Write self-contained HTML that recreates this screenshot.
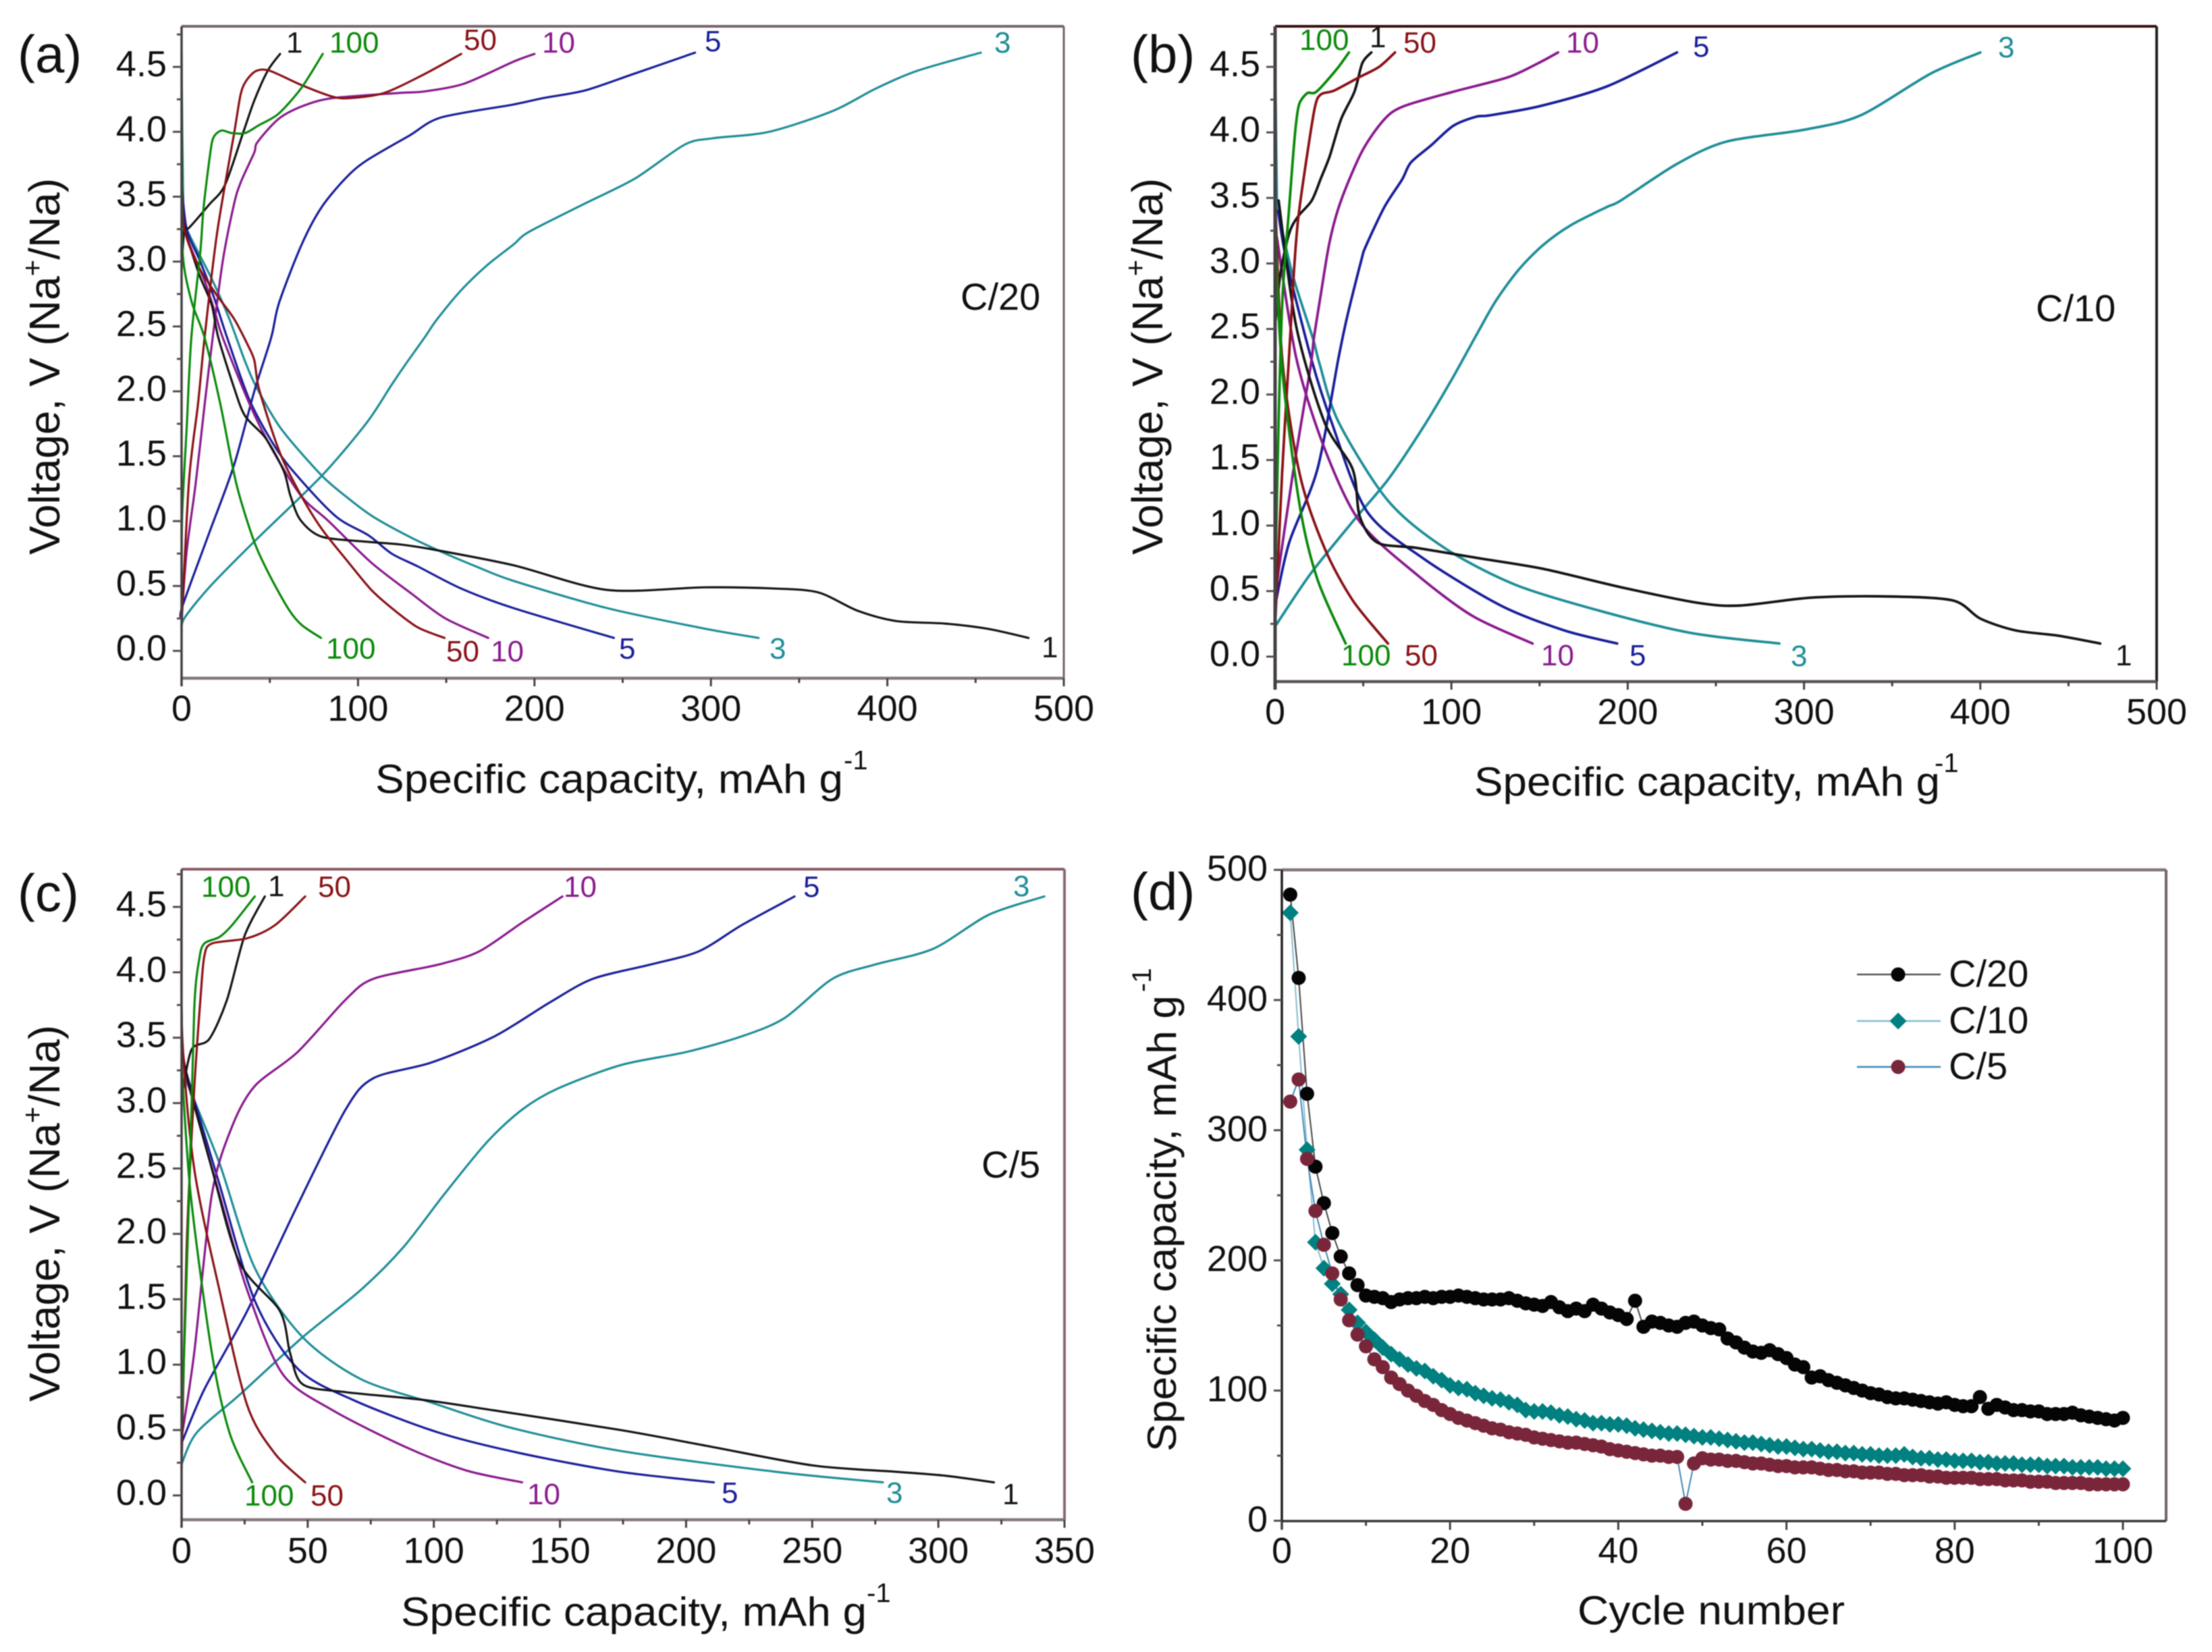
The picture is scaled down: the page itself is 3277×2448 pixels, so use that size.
<!DOCTYPE html>
<html lang="en">
<head>
<meta charset="utf-8">
<title>Specific capacity and voltage profiles</title>
<style>
html,body{margin:0;padding:0;background:#fff;}
svg{display:block;filter:blur(0.7px);}
text{font-family:"Liberation Sans",sans-serif;fill:#111;}
.tick{font-size:54px;}
.title{font-size:60px;}
.ytitle{font-size:64px;}
.sup{font-size:40px;}
.letter{font-size:78px;}
.rate{font-size:56px;}
.cl{font-size:44px;}
.k{fill:#151515}.r{fill:#8a1216}.g{fill:#0a8a0a}.p{fill:#8a1a8e}.b{fill:#1a1f9a}.t{fill:#1f8e98}
</style>
</head>
<body>
<svg id="fig" xmlns="http://www.w3.org/2000/svg" width="3277" height="2448" viewBox="0 0 3277 2448">
<rect width="3277" height="2448" fill="#fff"/>
<g id="plots"></g>

<!-- panel a text -->
<text class="letter" x="26" y="107">(a)</text>
<text class="title" x="556" y="1175" textLength="693" lengthAdjust="spacingAndGlyphs">Specific capacity, mAh g</text>
<text class="sup" x="1250" y="1140">-1</text>
<text class="ytitle" transform="translate(88,822) rotate(-90)">Voltage, V (Na<tspan font-size="42" dy="-26">+</tspan><tspan dy="26">/Na)</tspan></text>
<text class="rate" x="1423" y="459">C/20</text>
<text class="cl k" x="424" y="78">1</text>
<text class="cl g" x="488" y="78">100</text>
<text class="cl r" x="687" y="74">50</text>
<text class="cl p" x="803" y="78">10</text>
<text class="cl b" x="1044" y="76">5</text>
<text class="cl t" x="1473" y="78">3</text>
<text class="cl g" x="483" y="976">100</text>
<text class="cl r" x="661" y="980">50</text>
<text class="cl p" x="727" y="980">10</text>
<text class="cl b" x="917" y="976">5</text>
<text class="cl t" x="1140" y="976">3</text>
<text class="cl k" x="1543" y="974">1</text>

<!-- panel b text -->
<text class="letter" x="1675" y="107">(b)</text>
<text class="title" x="2184" y="1179" textLength="690" lengthAdjust="spacingAndGlyphs">Specific capacity, mAh g</text>
<text class="sup" x="2866" y="1144">-1</text>
<text class="ytitle" transform="translate(1722,822) rotate(-90)">Voltage, V (Na<tspan font-size="42" dy="-26">+</tspan><tspan dy="26">/Na)</tspan></text>
<text class="rate" x="3016" y="476">C/10</text>
<text class="cl g" x="1925" y="74">100</text>
<text class="cl k" x="2029" y="70">1</text>
<text class="cl r" x="2079" y="78">50</text>
<text class="cl p" x="2320" y="78">10</text>
<text class="cl b" x="2508" y="84">5</text>
<text class="cl t" x="2960" y="85">3</text>
<text class="cl g" x="1987" y="986">100</text>
<text class="cl r" x="2081" y="986">50</text>
<text class="cl p" x="2283" y="986">10</text>
<text class="cl b" x="2414" y="986">5</text>
<text class="cl t" x="2653" y="987">3</text>
<text class="cl k" x="3134" y="986">1</text>

<!-- panel c text -->
<text class="letter" x="26" y="1350">(c)</text>
<text class="title" x="594" y="2409" textLength="690" lengthAdjust="spacingAndGlyphs">Specific capacity, mAh g</text>
<text class="sup" x="1284" y="2374">-1</text>
<text class="ytitle" transform="translate(88,2077) rotate(-90)">Voltage, V (Na<tspan font-size="42" dy="-26">+</tspan><tspan dy="26">/Na)</tspan></text>
<text class="rate" x="1454" y="1745">C/5</text>
<text class="cl g" x="298" y="1329">100</text>
<text class="cl k" x="397" y="1328">1</text>
<text class="cl r" x="471" y="1329">50</text>
<text class="cl p" x="835" y="1329">10</text>
<text class="cl b" x="1190" y="1329">5</text>
<text class="cl t" x="1501" y="1328">3</text>
<text class="cl g" x="362" y="2231">100</text>
<text class="cl r" x="460" y="2231">50</text>
<text class="cl p" x="781" y="2229">10</text>
<text class="cl b" x="1069" y="2227">5</text>
<text class="cl t" x="1313" y="2227">3</text>
<text class="cl k" x="1485" y="2229">1</text>

<!-- panel d text -->
<text class="letter" x="1675" y="1348">(d)</text>
<text class="title" x="2337" y="2407" textLength="396" lengthAdjust="spacingAndGlyphs">Cycle number</text>
<text class="title" transform="translate(1742,2151) rotate(-90)" textLength="676" lengthAdjust="spacingAndGlyphs">Specific capacity, mAh g</text>
<text class="sup" transform="translate(1705,1470) rotate(-90)">-1</text>
<text class="rate" x="2887" y="1462">C/20</text>
<text class="rate" x="2887" y="1531">C/10</text>
<text class="rate" x="2887" y="1599">C/5</text>
</svg>

<script>
// ---------- Panel (a) C/20: [capacity mAh/g, voltage V] ----------
const aCharge3 = [[0,.15],[1.5,.25],[15.7,.49],[41,.84],[79.5,1.35],[105,1.76],[119,2.05],[127,2.21],[138,2.42],[144.5,2.55],[158.5,2.78],[173,2.97],[188,3.13],[197,3.23],[229,3.45],[257,3.64],[285,3.9],[301,3.95],[333,4.0],[369,4.16],[393,4.33],[417,4.47],[453,4.61]];
const aCharge5 = [[0,.25],[.4,.34],[15.7,.91],[29.7,1.43],[41.2,2.0],[50.8,2.415],[55.2,2.68],[68,3.13],[79.4,3.42],[93.5,3.65],[105,3.78],[129,3.97],[147,4.11],[188,4.21],[205,4.26],[229,4.32],[257,4.45],[291,4.61]];
const aCharge10 = [[0,.25],[2.9,.77],[8,1.29],[13.1,1.9],[17.6,2.41],[23.3,3.0],[29.7,3.44],[33.5,3.61],[41.2,3.84],[43,3.92],[55,4.1],[69,4.2],[85.8,4.26],[124,4.3],[137,4.31],[160,4.37],[188,4.54],[200,4.6]];
const aCharge50 = [[0,.2],[4.2,1.31],[9.3,1.9],[13,2.41],[19.5,3.16],[24.6,3.59],[29.7,3.98],[33.5,4.29],[37,4.4],[42.5,4.47],[50,4.47],[68,4.36],[85.8,4.27],[96,4.26],[115,4.3],[137,4.44],[158.5,4.6]];
const aCharge100 = [[0,.3],[.3,1.03],[2.9,1.72],[5.5,2.41],[10.6,3.07],[12.5,3.42],[16.3,3.84],[18.2,3.96],[22.7,4.01],[28.5,3.99],[36,3.99],[43.7,4.05],[55,4.14],[68,4.34],[80,4.6]];
const aCharge1 = [[0,2.95],[1.6,3.25],[4.2,3.26],[15.7,3.44],[24.6,3.59],[34.8,3.99],[41.2,4.24],[48.8,4.47],[55.8,4.6]];
const aDischarge3 = [[0,4.6],[1,3.4],[2.9,3.25],[17,2.87],[27,2.56],[36,2.23],[42.5,2.03],[56.5,1.71],[79.5,1.35],[95,1.17],[109,1.03],[130.5,.87],[149.5,.75],[167,.65],[188,.54],[241,.33],[297,.17],[327,.1]];
const aDischarge5 = [[0,3.6],[2.9,3.25],[10.6,3.0],[18.2,2.73],[25.8,2.415],[38.6,1.93],[54,1.55],[68,1.31],[88,1.03],[106,.89],[119,.75],[134,.65],[158.5,.48],[188,.33],[245,.1]];
const aDischarge10 = [[0,3.6],[1.6,3.25],[13.1,2.85],[18.9,2.61],[23.3,2.415],[38.6,1.9],[51.4,1.55],[68,1.19],[83.3,1.0],[107.5,.68],[130.4,.44],[149.5,.25],[173.8,.1]];
const aDischarge50 = [[0,3.6],[1.6,3.25],[9.3,2.97],[19.5,2.75],[29.7,2.56],[37.4,2.36],[41.2,2.24],[43.7,2.03],[51.4,1.69],[57.8,1.46],[68,1.19],[79.4,.94],[94.7,.68],[107.5,.47],[120,.32],[134,.18],[149,.1]];
const aDischarge100 = [[0,4.6],[.3,3.8],[.6,3.07],[5.5,2.7],[13,2.415],[22,1.9],[31,1.29],[41.2,.84],[50,.58],[60.7,.32],[68,.2],[79,.1]];
const aDischarge1 = [[1.6,3.25],[10,2.9],[17,2.67],[20.8,2.415],[29.7,2.03],[36,1.81],[47.6,1.64],[57.8,1.39],[61.6,1.2],[67.3,1.01],[79.4,.88],[106,.84],[124,.82],[143,.78],[188,.66],[241,.47],[297,.49],[337,.48],[361,.45],[383,.31],[405,.23],[433,.21],[457,.17],[480,.1]];

// ---------- Panel (b) C/10 ----------
const bCharge3 = [[0,.23],[20,.63],[44,1.03],[64,1.35],[84,1.75],[100,2.11],[114,2.45],[125,2.71],[138,2.95],[152,3.14],[167.5,3.29],[188,3.43],[196,3.48],[228,3.76],[256,3.93],[300,4.02],[332,4.13],[372,4.45],[400,4.61]];
const bCharge5 = [[0,.39],[8,.87],[24,1.43],[36,2.28],[41,2.6],[49,3.03],[51.4,3.13],[62,3.43],[72,3.64],[77,3.77],[88.4,3.9],[101,4.05],[114,4.12],[121.6,4.13],[150,4.2],[188,4.35],[228,4.61]];
const bCharge10 = [[0,.47],[10,1.39],[20,2.2],[22,2.43],[26,2.77],[31,3.17],[37.4,3.48],[49.5,3.86],[62,4.1],[73,4.2],[101,4.31],[132,4.42],[149.5,4.53],[160.5,4.61]];
const bCharge50 = [[0,.23],[4,1.4],[8,2.31],[10.6,2.92],[13.1,3.34],[18.3,3.84],[22.7,4.2],[26,4.29],[33.6,4.32],[47.6,4.42],[59,4.5],[68,4.61]];
const bCharge100 = [[0,.5],[2,1.8],[4.2,2.74],[8,3.43],[9.9,3.77],[11.9,4.07],[13.8,4.22],[18.3,4.3],[23.4,4.31],[34.8,4.48],[41.9,4.61]];
const bCharge1 = [[.3,2.57],[3,2.92],[8,3.23],[13.1,3.36],[20.8,3.48],[26,3.65],[31,3.82],[37.4,4.1],[45,4.31],[49.5,4.53],[54.6,4.61]];
const bDischarge3 = [[0,4.6],[1,3.5],[1.7,3.4],[10,2.91],[21.4,2.43],[25.3,2.23],[36,1.79],[64,1.19],[96,.83],[136,.55],[184,.35],[236,.18],[286,.1]];
const bDischarge5 = [[1.7,3.4],[6.8,3.0],[20.8,2.26],[32,1.79],[52,1.11],[84,.75],[128,.39],[164,.2],[194,.1]];
const bDischarge10 = [[1,3.2],[12,2.28],[28,1.59],[48,1.03],[80,.63],[112,.31],[146,.1]];
const bDischarge50 = [[0,3.52],[4,2.28],[14,1.39],[28,.83],[44,.43],[64,.1]];
const bDischarge100 = [[0,4.6],[.4,3.24],[4,2.2],[14,1.15],[24,.59],[40,.1]];
const bDischarge1 = [[2,3.48],[12,2.52],[28,1.79],[44,1.43],[48,1.07],[58,.87],[80,.83],[116,.75],[152,.67],[196,.53],[240,.41],[264,.39],[304,.45],[344,.46],[384,.43],[400,.29],[420,.2],[444,.16],[468,.1]];

// ---------- Panel (c) C/5 ----------
const cCharge3 = [[0,.24],[6,.48],[23,.77],[48,1.21],[71,1.57],[88,1.9],[104,2.3],[121,2.7],[135,2.95],[149,3.11],[174,3.29],[200,3.39],[222,3.51],[239,3.65],[258,3.95],[275,4.06],[298,4.18],[320,4.44],[342,4.58]];
const cCharge5 = [[0,.4],[9,.81],[26,1.41],[46,2.22],[65,2.95],[76,3.19],[99,3.31],[124,3.51],[146,3.77],[163,3.95],[186,4.06],[205,4.16],[222,4.36],[243,4.58]];
const cCharge10 = [[0,.44],[5,1.09],[12,2.3],[20,2.82],[29,3.13],[46,3.39],[65,3.79],[76,3.95],[102,4.06],[118,4.16],[135,4.38],[151,4.58]];
const cCharge50 = [[0,.2],[2,1.9],[5,3.1],[7.5,3.8],[9,4.12],[12,4.22],[26,4.26],[37,4.36],[49,4.58]];
const cCharge100 = [[0,.48],[3,2.3],[5,3.71],[7,4.1],[9,4.22],[15,4.27],[20,4.36],[29,4.58]];
const cCharge1 = [[.5,3.1],[4,3.41],[11,3.49],[18,3.79],[25,4.28],[33,4.58]];
const cDischarge3 = [[1.4,3.19],[15,2.54],[29,1.74],[48,1.21],[71,.89],[99,.71],[130,.52],[174,.34],[236,.18],[278,.1]];
const cDischarge5 = [[0,3.5],[1.4,3.27],[15,2.38],[29,1.49],[46,.97],[68,.73],[102,.48],[135,.32],[174,.18],[211,.1]];
const cDischarge10 = [[1.4,3.23],[15,2.3],[26,1.57],[40,.93],[60,.65],[90,.36],[113,.19],[135,.1]];
const cDischarge50 = [[0,4.5],[.3,3.5],[5,2.5],[15,1.57],[26,.69],[37,.32],[49,.1]];
const cDischarge100 = [[0,3.3],[3.6,2.3],[12,1.09],[19,.48],[28,.1]];
const cDischarge1 = [[0,3.7],[1.4,3.27],[12,2.5],[23,1.78],[39,1.41],[43,1.09],[48,.85],[65,.79],[96,.73],[124,.65],[174,.5],[208,.38],[250,.23],[284,.18],[303,.15],[322,.1]];

// ---------- Panel (d) capacity per cycle (cycle = index + 1) ----------
const cycleC20 = [481,417,328,272,244,221,203,190,181,173,172,171,168,170,171,171,172,171,172,172,173,172,171,170,170,170,171,169,167,166,165,168,164,161,163,161,166,163,160,158,155,169,149,153,152,150,149,152,153,150,148,147,140,137,133,130,129,131,128,125,120,118,110,111,108,106,104,102,100,98,97,95,94,94,93,92,91,90,91,89,88,88,95,86,89,87,85,85,84,84,82,82,82,83,81,80,79,78,77,79];
const cycleC10 = [467,372,285,214,194,182,174,162,152,145,139,133,128,124,120,117,115,111,108,104,102,101,98,96,94,93,91,89,85,84,84,83,81,80,78,77,75,75,74,74,73,71,70,69,68,67,67,66,65,64,64,63,62,61,60,60,59,58,57,57,56,55,55,54,53,53,52,52,51,51,50,50,50,51,49,48,48,47,47,46,46,46,45,45,44,44,44,43,43,43,42,42,42,41,41,41,41,40,40,40];
const cycleC5 = [322,339,278,238,212,190,170,154,143,134,124,118,110,105,100,96,92,89,85,82,79,77,75,73,71,70,68,67,66,64,63,62,61,60,60,59,58,57,55,54,53,52,51,50,50,49,49,13,44,48,47,47,46,46,45,44,44,43,42,42,41,41,41,40,39,39,38,38,37,37,37,36,36,35,35,35,34,34,33,33,33,33,32,32,32,31,31,31,30,30,30,29,29,29,29,28,28,28,28,28];

// ---------- Tick labels ----------
const voltageTicks = [0,0.5,1,1.5,2,2.5,3,3.5,4,4.5];
const capacityTicks500 = [0,100,200,300,400,500];
const capacityTicks350 = [0,50,100,150,200,250,300,350];
const cycleTicks = [0,20,40,60,80,100];
const cycleCapacityTicks = [0,100,200,300,400,500];

const NS = 'http://www.w3.org/2000/svg';
const plots = document.getElementById('plots');
const COLORS = {k:'#151515', r:'#8a1216', g:'#0a8a0a', p:'#8a1a8e', b:'#1a1f9a', t:'#1f8e98'};

function make(tag, attrs) {
  const el = document.createElementNS(NS, tag);
  for (const key in attrs) el.setAttribute(key, attrs[key]);
  plots.appendChild(el);
  return el;
}
function addLine(x1, y1, x2, y2, color, w, name) {
  const el = make('line', {x1:x1, y1:y1, x2:x2, y2:y2, stroke:color, 'stroke-width':w});
  
  
}
function addLabel(x, y, anchor, str, name) {
  const el = make('text', {x:x, y:y, 'text-anchor':anchor, class:'tick'});
  el.textContent = str;
  
  
}
function smoothPath(pts) {
  let d = 'M' + pts[0][0].toFixed(1) + ' ' + pts[0][1].toFixed(1);
  for (let i = 0; i < pts.length - 1; i++) {
    const p0 = pts[Math.max(0, i - 1)], p1 = pts[i], p2 = pts[i + 1], p3 = pts[Math.min(pts.length - 1, i + 2)];
    const c1x = p1[0] + (p2[0] - p0[0]) / 7, c1y = p1[1] + (p2[1] - p0[1]) / 7;
    const c2x = p2[0] - (p3[0] - p1[0]) / 7, c2y = p2[1] - (p3[1] - p1[1]) / 7;
    d += 'C' + c1x.toFixed(1) + ' ' + c1y.toFixed(1) + ' ' + c2x.toFixed(1) + ' ' + c2y.toFixed(1) + ' ' + p2[0].toFixed(1) + ' ' + p2[1].toFixed(1);
  }
  return d;
}
function drawFrame(p, prefix) {
  addLine(p.left, p.top, p.right, p.top, p.topColor, p.topW, prefix + '-top-axis');
  addLine(p.right, p.top, p.right, p.bottom, p.rightColor, p.rightW, prefix + '-right-axis');
  addLine(p.left, p.bottom, p.right, p.bottom, p.bottomColor, p.bottomW, prefix + '-bottom-axis');
  addLine(p.left, p.top, p.left, p.bottom + 12, '#454045', p.leftW, prefix + '-left-axis');
}
function drawVoltagePanel(p, prefix, xTicks, xMax, curves) {
  const sx = v => p.left + (p.right - p.left) * v / xMax;
  const sy = v => p.v0 - p.k * v;
  curves.forEach(c => {
    const el = make('path', {d: smoothPath(c.data.map(q => [sx(q[0]), sy(q[1])])), fill:'none', stroke:COLORS[c.color], 'stroke-width':p.lineW, 'stroke-linejoin':'round', 'stroke-linecap':'round'});
    
    
  });
  drawFrame(p, prefix);
  voltageTicks.forEach(v => {
    addLine(p.left - 13, sy(v), p.left, sy(v), '#554c50', 3, prefix + '-y-tick');
    addLabel(p.left - 22, sy(v) + 14, 'end', v.toFixed(1), prefix + '-y-tick-label');
    addLine(p.left - 7, sy(v + 0.25), p.left, sy(v + 0.25), '#554c50', 3, prefix + '-y-minor-tick');
  });
  xTicks.forEach((v, i) => {
    addLine(sx(v), p.bottom, sx(v), p.bottom + 12, '#454045', 3, prefix + '-x-tick');
    addLabel(sx(v), p.labelY, 'middle', String(v), prefix + '-x-tick-label');
    if (i < xTicks.length - 1) {
      const mid = (v + xTicks[i + 1]) / 2;
      addLine(sx(mid), p.bottom, sx(mid), p.bottom + 7, '#454045', 3, prefix + '-x-minor-tick');
    }
  });
}
function diamondPoints(x, y, r) {
  return x + ',' + (y - r) + ' ' + (x + r) + ',' + y + ' ' + x + ',' + (y + r) + ' ' + (x - r) + ',' + y;
}

drawVoltagePanel({left:269, right:1576, top:39, bottom:1005, v0:964.5, k:192.3, labelY:1068, lineW:3.2, leftW:3.5,
  topColor:'#75666c', topW:4, rightColor:'#75606a', rightW:3, bottomColor:'#85797e', bottomW:4.5}, 'panel-a', capacityTicks500, 500, [
  {name:'charge-3', color:'t', data:aCharge3}, {name:'discharge-3', color:'t', data:aDischarge3},
  {name:'charge-5', color:'b', data:aCharge5}, {name:'discharge-5', color:'b', data:aDischarge5},
  {name:'charge-10', color:'p', data:aCharge10}, {name:'discharge-10', color:'p', data:aDischarge10},
  {name:'charge-1', color:'k', data:aCharge1}, {name:'discharge-1', color:'k', data:aDischarge1},
  {name:'charge-50', color:'r', data:aCharge50}, {name:'discharge-50', color:'r', data:aDischarge50},
  {name:'charge-100', color:'g', data:aCharge100}, {name:'discharge-100', color:'g', data:aDischarge100}
]);
drawVoltagePanel({left:1889, right:3195, top:39, bottom:1010, v0:973, k:194.2, labelY:1073, lineW:3.8, leftW:5,
  topColor:'#3a1012', topW:4, rightColor:'#222', rightW:4, bottomColor:'#5c5458', bottomW:4.5}, 'panel-b', capacityTicks500, 500, [
  {name:'charge-3', color:'t', data:bCharge3}, {name:'discharge-3', color:'t', data:bDischarge3},
  {name:'charge-5', color:'b', data:bCharge5}, {name:'discharge-5', color:'b', data:bDischarge5},
  {name:'charge-10', color:'p', data:bCharge10}, {name:'discharge-10', color:'p', data:bDischarge10},
  {name:'charge-1', color:'k', data:bCharge1}, {name:'discharge-1', color:'k', data:bDischarge1},
  {name:'charge-50', color:'r', data:bCharge50}, {name:'discharge-50', color:'r', data:bDischarge50},
  {name:'charge-100', color:'g', data:bCharge100}, {name:'discharge-100', color:'g', data:bDischarge100}
]);
drawVoltagePanel({left:269, right:1577, top:1288, bottom:2252, v0:2216, k:193.8, labelY:2316, lineW:3.2, leftW:3.5,
  topColor:'#8a5a62', topW:4, rightColor:'#8a6a72', rightW:4, bottomColor:'#85797e', bottomW:4.5}, 'panel-c', capacityTicks350, 350, [
  {name:'charge-3', color:'t', data:cCharge3}, {name:'discharge-3', color:'t', data:cDischarge3},
  {name:'charge-5', color:'b', data:cCharge5}, {name:'discharge-5', color:'b', data:cDischarge5},
  {name:'charge-10', color:'p', data:cCharge10}, {name:'discharge-10', color:'p', data:cDischarge10},
  {name:'charge-1', color:'k', data:cCharge1}, {name:'discharge-1', color:'k', data:cDischarge1},
  {name:'charge-50', color:'r', data:cCharge50}, {name:'discharge-50', color:'r', data:cDischarge50},
  {name:'charge-100', color:'g', data:cCharge100}, {name:'discharge-100', color:'g', data:cDischarge100}
]);

// Panel (d)
(function () {
  const p = {left:1899, right:3209, top:1289, bottom:2254, topColor:'#85757c', topW:4.5, rightColor:'#75606a', rightW:4, bottomColor:'#3a3538', bottomW:3.5};
  const sx = c => 1899 + 12.46 * c;
  const sy = v => 2253.5 - 1.929 * v;
  const series = [
    {name:'c20', values:cycleC20, line:'#444', fill:'#050505', shape:'circle'},
    {name:'c10', values:cycleC10, line:'#82bdd0', fill:'#008080', shape:'diamond'},
    {name:'c5', values:cycleC5, line:'#3d86b4', fill:'#7a263a', shape:'circle'}
  ];
  series.forEach(s => {
    const pts = s.values.map((v, i) => sx(i + 1).toFixed(1) + ',' + sy(v).toFixed(1)).join(' ');
    const line = make('polyline', {points:pts, fill:'none', stroke:s.line, 'stroke-width':2});
    
    
  });
  series.forEach(s => {
    s.values.forEach((v, i) => {
      const mark = s.shape === 'circle'
        ? make('circle', {cx:sx(i + 1), cy:sy(v), r:10.5, fill:s.fill})
        : make('polygon', {points:diamondPoints(sx(i + 1), sy(v), 12.5), fill:s.fill});
      
      
    });
  });
  addLine(p.left, p.top, p.right, p.top, p.topColor, p.topW, 'panel-d-top-axis');
  addLine(p.right, p.top, p.right, p.bottom, p.rightColor, p.rightW, 'panel-d-right-axis');
  addLine(p.left, p.bottom, p.right, p.bottom, p.bottomColor, p.bottomW, 'panel-d-bottom-axis');
  addLine(p.left, p.top, p.left, p.bottom + 12, '#222', 3.5, 'panel-d-left-axis');
  cycleCapacityTicks.forEach((v, i) => {
    addLine(p.left - 12, sy(v), p.left, sy(v), '#554c50', 3, 'panel-d-y-tick');
    addLabel(p.left - 21, sy(v) + 16, 'end', String(v), 'panel-d-y-tick-label');
    if (i < cycleCapacityTicks.length - 1) {
      const mid = (v + cycleCapacityTicks[i + 1]) / 2;
      addLine(p.left - 7, sy(mid), p.left, sy(mid), '#554c50', 3, 'panel-d-y-minor-tick');
    }
  });
  cycleTicks.forEach((v, i) => {
    addLine(sx(v), p.bottom, sx(v), p.bottom + 13, '#454045', 3, 'panel-d-x-tick');
    addLabel(sx(v), 2316, 'middle', String(v), 'panel-d-x-tick-label');
    if (i < cycleTicks.length - 1) {
      const mid = (v + cycleTicks[i + 1]) / 2;
      addLine(sx(mid), p.bottom, sx(mid), p.bottom + 7, '#454045', 3, 'panel-d-x-minor-tick');
    }
  });
  // Legend
  const legendRows = [
    {name:'c20', y:1444, line:'#555', fill:'#050505', shape:'circle'},
    {name:'c10', y:1513, line:'#82bdd0', fill:'#008080', shape:'diamond'},
    {name:'c5', y:1581, line:'#3d86b4', fill:'#7a263a', shape:'circle'}
  ];
  legendRows.forEach(r => {
    addLine(2751, r.y, 2875, r.y, r.line, 2.5, 'legend-line-' + r.name);
    const mark = r.shape === 'circle'
      ? make('circle', {cx:2812, cy:r.y, r:10.5, fill:r.fill})
      : make('polygon', {points:diamondPoints(2812, r.y, 12.5), fill:r.fill});
    
    
  });
})();
</script>
</body>
</html>
